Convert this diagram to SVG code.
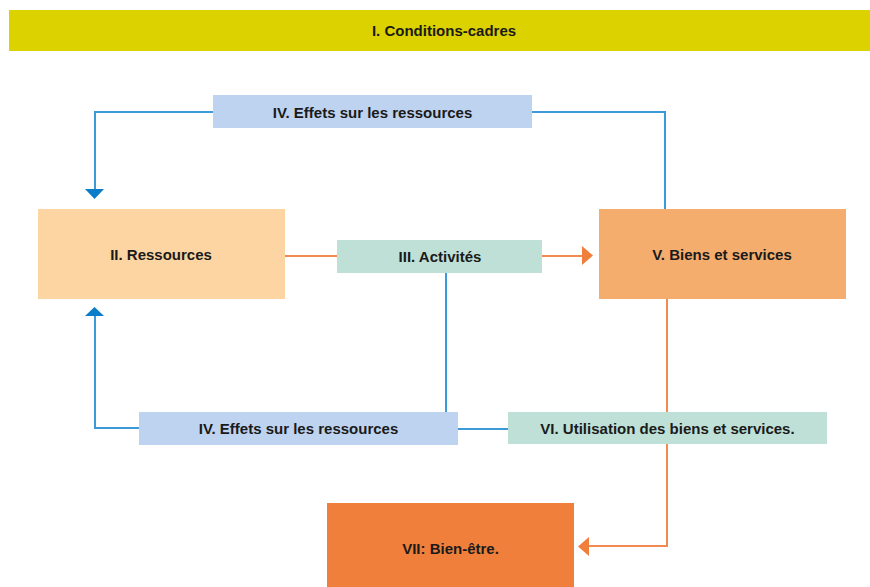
<svg xmlns="http://www.w3.org/2000/svg" width="870" height="587" viewBox="0 0 870 587">
<style>
text{font-family:"Liberation Sans",Arial,sans-serif;font-weight:bold;font-size:15px;fill:#1a1a1a;text-anchor:middle}
.bl{fill:none;stroke:#3d9ad8;stroke-width:2}
.or{fill:none;stroke:#f28a52;stroke-width:2}
.ba{fill:#0a7cc8}
.oa{fill:#f07f3c}
</style>
<rect width="870" height="587" fill="#ffffff"/>
<g id="connectors">
<polyline class="bl" points="213,112 95,112 95,190"/>
<polygon class="ba" points="85,189 104,189 94.5,199"/>
<polyline class="bl" points="532,112 665,112 665,209"/>
<polyline class="bl" points="446,273 446,412"/>
<polyline class="bl" points="139,428 95,428 95,316"/>
<polygon class="ba" points="85,316 104,316 94.5,307"/>
<polyline class="bl" points="458,429 508,429"/>
<polyline class="or" points="285,256 337,256"/>
<polyline class="or" points="542,256 583,256"/>
<polygon class="oa" points="582,246 582,265 593,255.5"/>
<polyline class="or" points="667,299 667,546 588,546"/>
<polygon class="oa" points="589,537 589,556 578,546.5"/>
</g>
<g id="n1"><rect x="9" y="10" width="861" height="41" fill="#dcd200"/><text x="444" y="36">I. Conditions-cadres</text></g>
<g id="n4a"><rect x="213" y="95" width="319" height="33" fill="#bed3ef"/><text x="372.5" y="117.5">IV. Effets sur les ressources</text></g>
<g id="n2"><rect x="38" y="209" width="247" height="90" fill="#fcd5a2"/><text x="161" y="260">II. Ressources</text></g>
<g id="n3"><rect x="337" y="240" width="205" height="33" fill="#bee0d6"/><text x="440" y="262">III. Activités</text></g>
<g id="n5"><rect x="599" y="209" width="247" height="90" fill="#f5ad6e"/><text x="722" y="260">V. Biens et services</text></g>
<g id="n4b"><rect x="139" y="412" width="319" height="33" fill="#bed3ef"/><text x="298.5" y="434">IV. Effets sur les ressources</text></g>
<g id="n6"><rect x="508" y="412" width="319" height="32" fill="#bee0d6"/><text x="667.5" y="434">VI. Utilisation des biens et services.</text></g>
<g id="n7"><rect x="327" y="503" width="247" height="84" fill="#f07f3c"/><text x="450.5" y="554">VII: Bien-être.</text></g>
</svg>
